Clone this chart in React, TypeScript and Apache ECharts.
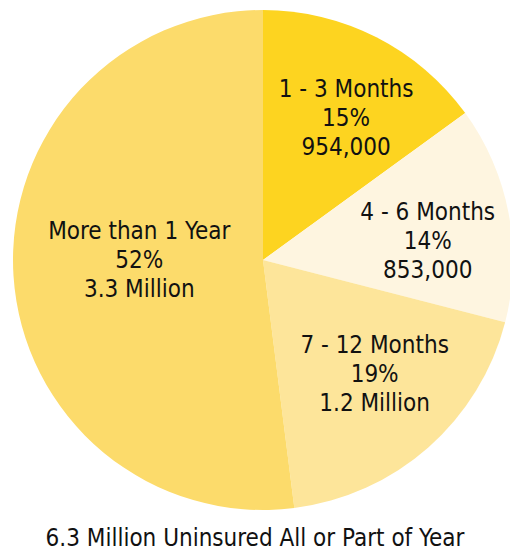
import React, { useEffect, useRef } from "react";
import * as echarts from "echarts";

const categories = ["1 - 3 Months", "4 - 6 Months", "7 - 12 Months", "More than 1 Year"];
const percents = [15, 14, 19, 52];
const amounts = ["954,000", "853,000", "1.2 Million", "3.3 Million"];
const colors = ["#FDD420", "#FEF5E0", "#FDE59A", "#FCDB6B"];
const totalLabel = "6.3 Million Uninsured All or Part of Year";
// label nudges relative to ECharts' default inside position
const labelShift = [
  [25, -28],
  [39, 5],
  [27, 18],
  [4, -8],
];

const FONT = "'DejaVu Sans Condensed', 'Liberation Sans Narrow', 'Roboto', sans-serif";

export default function App() {
  const ref = useRef<HTMLDivElement>(null);
  useEffect(() => {
    if (!ref.current) return;
    const chart = echarts.init(ref.current, null, { renderer: "svg" });
    chart.setOption({
      animation: false,
      backgroundColor: "#ffffff",
      title: {
        text: totalLabel,
        left: "center",
        top: 526,
        padding: 0,
        textStyle: { fontFamily: FONT, fontSize: 24, lineHeight: 24, fontWeight: "normal", color: "#111" },
      },
      series: [
        {
          type: "pie",
          center: [263, 260],
          radius: 250,
          startAngle: 90,
          clockwise: true,
          silent: true,
          itemStyle: { borderWidth: 0 },
          label: {
            show: true,
            position: "inside",
            fontFamily: FONT,
            fontSize: 24,
            lineHeight: 29,
            color: "#111",
            align: "center",
            formatter: (p: any) => `${p.name}\n${p.value}%\n${amounts[p.dataIndex]}`,
          },
          labelLine: { show: false },
          labelLayout: (p: any) => ({ dx: labelShift[p.dataIndex][0], dy: labelShift[p.dataIndex][1] }),
          data: categories.map((c, i) => ({ name: c, value: percents[i], itemStyle: { color: colors[i] } })),
        },
      ],
    });
    return () => chart.dispose();
  }, []);
  return <div ref={ref} style={{ position: "fixed", left: 0, top: 0, width: 510, height: 552 }} />;
}
